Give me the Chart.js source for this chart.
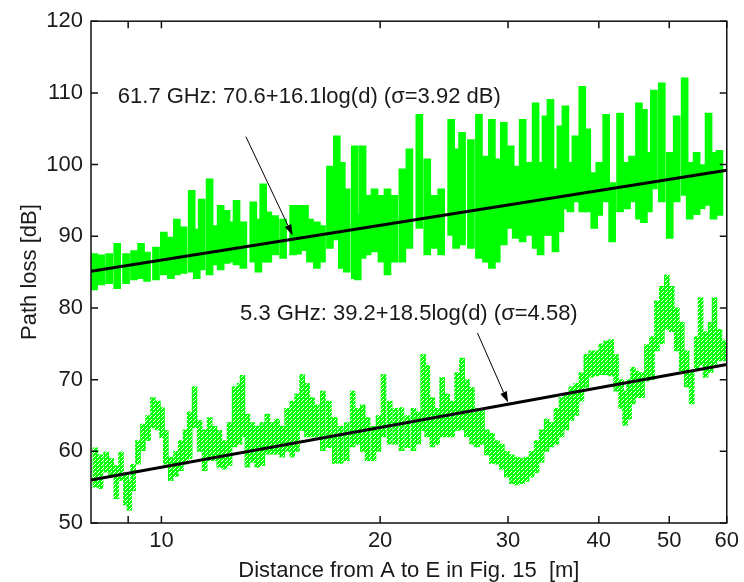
<!DOCTYPE html>
<html>
<head>
<meta charset="utf-8">
<script src="https://cdn.jsdelivr.net/npm/chart.js@4.4.1/dist/chart.umd.min.js"></script>
<style>
  html, body { margin: 0; padding: 0; background: #fff; }
</style>
</head>
<body>
<canvas id="chart" width="744" height="582"></canvas>
<script>
// 61.7 GHz: distance [m] and the bottom / top of each column of measured points [dB]
const dist617 = [
  8.00, 8.17, 8.36, 8.57, 8.79, 9.04, 9.27, 9.48, 9.66, 9.94,
  10.19, 10.42, 10.62, 10.85, 11.13, 11.31, 11.49, 11.78, 12.00, 12.20,
  12.43, 12.63, 12.83, 13.11, 13.53, 13.75, 13.96, 14.19, 14.50, 14.87,
  15.35, 15.59, 15.94, 16.19, 16.55, 16.82, 17.25, 17.63, 17.91, 18.19,
  18.66, 18.84, 19.13, 19.44, 19.87, 20.31, 20.70, 21.16, 21.70, 22.19,
  22.90, 23.48, 24.00, 24.54, 25.33, 25.73, 26.22, 26.97, 27.66, 28.28,
  28.82, 29.27, 29.93, 30.59, 31.08, 31.77, 32.48, 33.10, 33.63, 34.16,
  34.70, 35.25, 35.81, 36.38, 36.96, 37.55, 38.38, 38.99, 39.86, 40.50,
  41.40, 42.19, 43.26, 44.23, 44.93, 45.93, 46.66, 47.40, 48.16, 49.38,
  50.64, 51.77, 53.09, 53.94, 55.14, 56.02, 57.27, 58.17, 59.28
];
const low617 = [
  82.5, 82.5, 83.2, 83.4, 82.7, 83.4, 83.9, 84.1, 83.7, 83.9,
  84.6, 84.1, 84.6, 84.8, 85.0, 84.1, 85.3, 84.6, 86.0, 85.3,
  86.2, 86.4, 86.0, 85.5, 86.4, 85.0, 86.4, 86.4, 87.4, 86.9,
  87.4, 87.5, 88.0, 86.4, 85.5, 86.4, 88.3, 89.5, 85.5, 85.0,
  84.1, 83.9, 86.9, 87.4, 87.8, 86.4, 84.6, 86.4, 86.4, 88.3,
  91.1, 87.4, 88.3, 87.4, 90.1, 88.3, 88.8, 88.3, 86.9, 86.4,
  85.5, 86.4, 88.8, 91.1, 89.7, 89.2, 90.1, 88.3, 87.4, 90.1,
  90.1, 87.8, 90.6, 93.8, 93.4, 94.8, 93.4, 93.4, 91.1, 92.9,
  94.8, 89.2, 93.4, 93.8, 94.8, 92.4, 91.9, 93.4, 96.6, 94.8,
  89.7, 94.8, 95.7, 92.4, 93.0, 93.8, 94.3, 92.4, 92.9
];
const high617 = [
  88.0, 87.6, 87.4, 87.6, 89.0, 87.6, 88.0, 89.0, 87.8, 88.5,
  90.6, 89.9, 92.4, 91.3, 96.4, 91.0, 95.2, 98.0, 91.5, 94.3,
  93.6, 92.0, 95.0, 92.0, 94.8, 92.4, 97.3, 93.4, 92.9, 92.4,
  94.3, 94.3, 94.3, 92.4, 92.0, 91.5, 99.8, 104.0, 100.3, 96.6,
  102.6, 93.0, 102.6, 95.7, 96.6, 95.7, 96.6, 95.7, 99.4, 102.2,
  107.0, 100.8, 95.7, 96.6, 106.3, 102.2, 104.5, 103.5, 107.0, 101.2,
  106.3, 100.8, 105.9, 102.6, 99.8, 106.3, 100.3, 108.6, 100.3, 106.8,
  109.1, 99.4, 105.4, 108.2, 100.3, 104.0, 110.9, 105.0, 98.9, 100.3,
  107.0, 97.5, 107.2, 100.3, 101.2, 108.6, 107.7, 101.7, 110.4, 111.4,
  101.7, 106.8, 112.1, 100.3, 101.7, 100.0, 107.2, 101.7, 102.0
];

// 5.3 GHz: same layout
const dist53 = [
  8.05, 8.18, 8.33, 8.46, 8.60, 8.73, 8.87, 8.96, 9.07, 9.21,
  9.36, 9.51, 9.66, 9.81, 9.94, 10.06, 10.22, 10.39, 10.55, 10.71,
  10.85, 11.02, 11.20, 11.38, 11.56, 11.74, 11.92, 12.11, 12.31, 12.51,
  12.71, 12.83, 13.03, 13.23, 13.44, 13.66, 13.88, 14.09, 14.32, 14.55,
  14.78, 15.02, 15.25, 15.50, 15.74, 15.99, 16.24, 16.55, 16.87, 17.19,
  17.52, 17.85, 18.19, 18.48, 18.78, 19.07, 19.43, 19.74, 20.06, 20.45,
  20.83, 21.23, 21.63, 22.05, 22.40, 22.75, 23.04, 23.41, 23.77, 24.15,
  24.54, 24.93, 25.33, 25.73, 26.13, 26.55, 26.97, 27.40, 27.84, 28.28,
  28.73, 29.18, 29.65, 30.12, 30.60, 31.09, 31.57, 32.07, 32.58, 33.10,
  33.63, 34.16, 34.70, 35.25, 35.81, 36.38, 36.96, 37.55, 38.14, 38.74,
  39.37, 39.99, 40.62, 41.27, 41.92, 42.59, 43.13, 43.68, 44.23, 44.79,
  45.50, 46.23, 46.96, 47.70, 48.45, 49.23, 50.01, 50.81, 51.61, 52.43,
  53.26, 54.11, 54.79, 55.66, 56.55, 57.26, 58.17, 58.91
];
const low53 = [
  55.0, 54.8, 57.1, 56.5, 53.4, 55.9, 52.5, 51.8, 54.5, 58.2,
  60.1, 61.5, 63.3, 63.0, 61.9, 58.2, 55.9, 56.5, 57.3, 58.2,
  59.0, 63.3, 60.0, 57.3, 58.7, 58.7, 57.8, 57.5, 58.0, 60.6,
  61.0, 62.0, 57.8, 58.5, 57.8, 58.0, 59.6, 59.6, 59.6, 59.2,
  60.0, 59.2, 60.0, 62.9, 62.0, 62.0, 62.0, 60.1, 60.5, 58.3,
  58.3, 58.7, 60.6, 61.0, 60.0, 58.7, 58.7, 60.0, 62.0, 61.0,
  61.0, 60.1, 60.5, 60.1, 61.0, 62.9, 62.0, 60.6, 61.0, 62.0,
  62.0, 62.0, 62.9, 63.0, 62.0, 61.0, 60.6, 61.0, 59.5, 58.3,
  58.2, 57.5, 56.4, 55.5, 55.3, 55.5, 55.8, 56.4, 57.0, 58.5,
  60.0, 60.6, 61.0, 62.0, 63.0, 64.3, 65.0, 67.0, 68.9, 70.3,
  70.5, 70.7, 70.7, 70.5, 68.4, 66.0, 63.6, 64.5, 66.6, 67.5,
  67.5, 69.8, 70.0, 74.0, 75.0, 77.0, 76.7, 74.0, 71.2, 69.0,
  66.6, 71.2, 72.0, 70.3, 71.0, 72.1, 72.6, 72.6
];
const high53 = [
  60.5, 59.5, 59.9, 59.0, 58.0, 59.9, 57.0, 56.0, 58.2, 61.5,
  63.8, 65.0, 67.5, 67.0, 66.1, 62.9, 59.2, 60.0, 61.5, 63.0,
  65.5, 69.0, 64.3, 63.0, 64.7, 63.5, 62.9, 61.5, 64.0, 69.0,
  69.5, 70.6, 65.2, 64.0, 63.5, 64.0, 65.2, 64.0, 64.5, 63.5,
  66.0, 67.0, 68.0, 70.7, 69.5, 67.5, 66.5, 68.4, 67.0, 64.7,
  63.5, 64.0, 68.4, 66.0, 66.5, 64.7, 63.5, 65.0, 70.7, 67.0,
  66.0, 66.1, 65.0, 66.0, 65.5, 73.5, 72.0, 67.5, 66.0, 70.3,
  68.0, 67.0, 71.0, 73.0, 70.0, 68.9, 66.0, 65.7, 63.0, 62.5,
  61.5, 61.0, 60.0, 59.5, 59.2, 59.0, 59.2, 60.0, 61.5, 63.0,
  64.5, 64.0, 66.0, 67.5, 68.0, 69.0, 69.5, 71.0, 73.5, 74.0,
  74.0, 75.0, 75.4, 75.6, 73.5, 70.0, 68.4, 70.0, 71.7, 71.2,
  71.0, 74.9, 76.0, 81.0, 83.0, 84.6, 83.0, 80.0, 78.0, 74.0,
  71.2, 76.0, 81.4, 76.7, 78.0, 81.4, 77.0, 75.4
];

// fitted lines, read at both ends of the axis
const fitDist = [8, 60];
const fit617 = [85.1, 99.2];
const fit53 = [56.0, 72.1];

const xTicks = [9, 10, 20, 30, 40, 50, 60];
const xTickLabels = ['', '10', '20', '30', '40', '50', '60'];
const yTicks = [50, 60, 70, 80, 90, 100, 110, 120];

// text labels with their arrows, in data units (distance, dB)
const notes = [
  { text: '61.7 GHz: 70.6+16.1log(d) (\u03c3=3.92 dB)', at: [8.71, 109.5], from: [13.07, 103.9], to: [15.16, 90.1] },
  { text: '5.3 GHz: 39.2+18.5log(d) (\u03c3=4.58)', at: [12.83, 79.1], from: [27.23, 76.5], to: [30.0, 66.8] }
];

const FONT = '"Liberation Sans", Arial, Helvetica, sans-serif';
Chart.defaults.font.family = FONT;
Chart.defaults.font.size = 22;
Chart.defaults.color = '#1a1a1a';

const canvas = document.getElementById('chart');

// open diamond-ish speckle for the 5.3 GHz points
function speckle() {
  const tile = document.createElement('canvas');
  tile.width = 4; tile.height = 4;
  const g = tile.getContext('2d');
  g.fillStyle = '#00ff00';
  g.fillRect(0, 0, 4, 4);
  g.clearRect(1, 1, 1, 1);
  g.clearRect(3, 3, 1, 1);
  g.clearRect(2, 0, 1, 1);
  return canvas.getContext('2d').createPattern(tile, 'repeat');
}

const frame = {
  id: 'frame',
  afterDatasetsDraw(chart) {
    const { ctx, chartArea: a, scales: { x, y } } = chart;
    ctx.save();

    ctx.font = '22px ' + FONT;
    ctx.textBaseline = 'middle';
    ctx.textAlign = 'left';
    notes.forEach(n => {
      ctx.fillStyle = '#1a1a1a';
      ctx.fillText(n.text, x.getPixelForValue(n.at[0]), y.getPixelForValue(n.at[1]));
      const x0 = x.getPixelForValue(n.from[0]), y0 = y.getPixelForValue(n.from[1]);
      const x1 = x.getPixelForValue(n.to[0]), y1 = y.getPixelForValue(n.to[1]);
      const ang = Math.atan2(y1 - y0, x1 - x0);
      const len = 11, half = 3.5;
      const bx = x1 - len * Math.cos(ang), by = y1 - len * Math.sin(ang);
      ctx.strokeStyle = '#000';
      ctx.lineWidth = 1;
      ctx.beginPath();
      ctx.moveTo(x0, y0);
      ctx.lineTo(bx, by);
      ctx.stroke();
      ctx.fillStyle = '#000';
      ctx.beginPath();
      ctx.moveTo(x1, y1);
      ctx.lineTo(bx + half * Math.sin(ang), by - half * Math.cos(ang));
      ctx.lineTo(bx - half * Math.sin(ang), by + half * Math.cos(ang));
      ctx.closePath();
      ctx.fill();
    });

    // box and inward ticks
    ctx.strokeStyle = '#111';
    ctx.lineWidth = 1.5;
    ctx.strokeRect(a.left, a.top, a.right - a.left, a.bottom - a.top);
    const t = 7;
    ctx.beginPath();
    xTicks.forEach(v => {
      const px = x.getPixelForValue(v);
      ctx.moveTo(px, a.bottom); ctx.lineTo(px, a.bottom - t);
      ctx.moveTo(px, a.top); ctx.lineTo(px, a.top + t);
    });
    yTicks.forEach(v => {
      const py = y.getPixelForValue(v);
      ctx.moveTo(a.left, py); ctx.lineTo(a.left + t, py);
      ctx.moveTo(a.right, py); ctx.lineTo(a.right - t, py);
    });
    ctx.stroke();
    ctx.restore();
  }
};

const toBars = (d, lo, hi) => d.map((v, i) => ({ x: v, y: [lo[i], hi[i]] }));
const toLine = (d, v) => d.map((x, i) => ({ x: x, y: v[i] }));

new Chart(canvas, {
  type: 'bar',
  data: {
    datasets: [
      { type: 'line', data: toLine(fitDist, fit617), borderColor: '#000', borderWidth: 3, pointRadius: 0, order: 0, xAxisID: 'x' },
      { type: 'line', data: toLine(fitDist, fit53), borderColor: '#000', borderWidth: 3, pointRadius: 0, order: 0, xAxisID: 'x' },
      { type: 'bar', data: toBars(dist617, low617, high617), backgroundColor: '#00ff00', barThickness: 7, order: 1, xAxisID: 'x' },
      { type: 'bar', data: toBars(dist53, low53, high53), backgroundColor: speckle(), barThickness: 5, order: 1, xAxisID: 'x2' }
    ]
  },
  options: {
    responsive: false,
    animation: false,
    devicePixelRatio: 1,
    layout: { padding: { top: 18, right: 14, left: 0, bottom: 0 } },
    plugins: { legend: { display: false }, tooltip: { enabled: false } },
    scales: {
      x: {
        type: 'logarithmic', min: 8, max: 60, offset: false,
        grid: { display: false, drawTicks: false }, border: { display: false },
        afterBuildTicks: s => { s.ticks = xTicks.map(v => ({ value: v })); },
        afterFit: s => { s.height = 59; },
        ticks: {
          autoSkip: false, maxRotation: 0, padding: 5,
          callback: v => { const i = xTicks.indexOf(v); return i < 0 ? '' : xTickLabels[i]; }
        },
        title: { display: true, text: 'Distance from A to E in Fig. 15  [m]', padding: { top: 0, bottom: 0 }, font: { size: 22, lineHeight: 1 } }
      },
      x2: {
        type: 'logarithmic', min: 8, max: 60, offset: false, display: false
      },
      y: {
        min: 50, max: 120,
        grid: { display: false, drawTicks: false }, border: { display: false },
        afterBuildTicks: s => { s.ticks = yTicks.map(v => ({ value: v })); },
        afterFit: s => { s.width = 91; },
        ticks: { padding: 8 },
        title: { display: true, text: 'Path loss [dB]', padding: { top: 17, bottom: 0 }, font: { size: 22 } }
      }
    }
  },
  plugins: [frame]
});
</script>
</body>
</html>
